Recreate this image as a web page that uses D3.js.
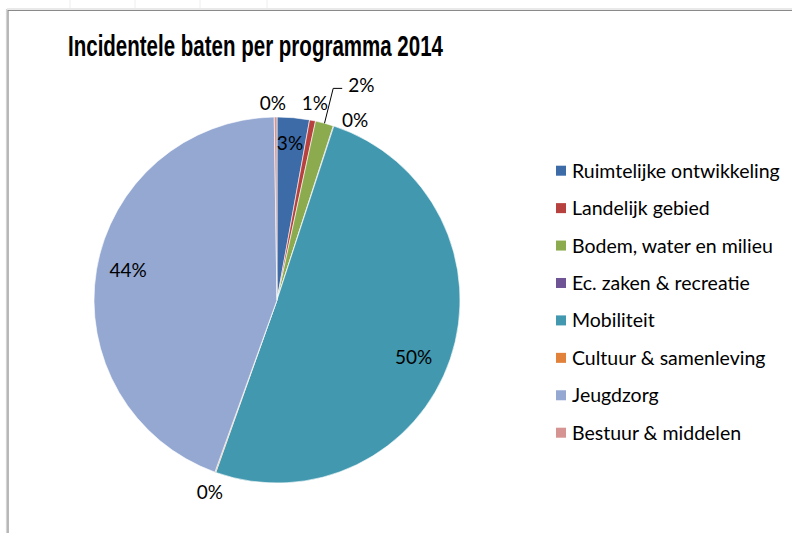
<!DOCTYPE html>
<html>
<head>
<meta charset="utf-8">
<script src="https://cdn.jsdelivr.net/npm/d3@7"></script>
<style>
  body { margin: 0; background: #fff; }
  text { font-family: Lato, "Open Sans", sans-serif; fill: #000; }
</style>
</head>
<body>
<div id="content"></div>
<script>
var width = 792;
var height = 533;

// data
var categories = ['Ruimtelijke ontwikkeling', 'Landelijk gebied', 'Bodem, water en milieu',
  'Ec. zaken & recreatie', 'Mobiliteit', 'Cultuur & samenleving', 'Jeugdzorg', 'Bestuur & middelen'];
var values = [2.85, 0.53, 1.6, 0.05, 50.4, 0.08, 44.25, 0.24];
var colors = ['#3D6BA7', '#B7413E', '#8BAB4E', '#6E5494', '#4198AF', '#E1813A', '#94A8D2', '#D59492'];
var title = 'Incidentele baten per programma 2014';

// label placement per slice: radius factor of pie radius, angle shift (deg), leader line
var labelPlace = [
  { r: 0.86, da: -0.4 },
  { r: 1.095, da: -0.3 },
  { r: 1.26, da: 6.4, leader: true },
  { r: 1.07, da: 5.5 },
  { r: 0.81, da: 4 },
  { r: 1.11, da: -0.4 },
  { r: 0.83, da: 2 },
  { r: 1.075, da: -0.8 }
];

var svg = d3.select('#content').append('svg').attr('width', width).attr('height', height);

// spreadsheet frame
svg.append('rect').attr('width', width).attr('height', height).attr('fill', '#fff');
[70, 135, 200, 267].forEach(function(x){
  svg.append('line').attr('x1', x).attr('x2', x).attr('y1', 0).attr('y2', 8)
    .attr('stroke', '#eee').attr('stroke-width', 1);
});
svg.append('line').attr('x1', 7).attr('x2', width).attr('y1', 9).attr('y2', 9)
  .attr('stroke', '#d4d4d4').attr('stroke-width', 1.2);
svg.append('line').attr('x1', 8).attr('x2', width).attr('y1', 10.5).attr('y2', 10.5)
  .attr('stroke', '#8a8a8a').attr('stroke-width', 1.2);
svg.append('line').attr('x1', 6.5).attr('x2', 6.5).attr('y1', 9).attr('y2', height)
  .attr('stroke', '#d4d4d4').attr('stroke-width', 1.2);
svg.append('line').attr('x1', 8).attr('x2', 8).attr('y1', 10).attr('y2', height)
  .attr('stroke', '#8a8a8a').attr('stroke-width', 1.2);

svg.append('text')
  .attr('x', 68).attr('y', 56)
  .attr('textLength', 375).attr('lengthAdjust', 'spacingAndGlyphs')
  .style('font-family', '"Liberation Sans", Arial, sans-serif')
  .style('font-weight', 'bold').style('font-size', '30px').style('fill', '#000')
  .text(title);

var cx = 277, cy = 300, radius = 183;
var total = d3.sum(values);
var color = d3.scaleOrdinal().domain(categories).range(colors);

var pie = d3.pie().sort(null).value(function(d){ return d.value; });
var data = categories.map(function(c, i){ return { name: c, value: values[i], i: i }; });
var arcs = pie(data);
var arc = d3.arc().innerRadius(0).outerRadius(radius);

var g = svg.append('g').attr('transform', 'translate(' + cx + ',' + cy + ')');

g.selectAll('path.slice').data(arcs).enter().append('path')
  .attr('class', 'slice')
  .attr('d', arc)
  .attr('fill', function(d){ return color(d.data.name); })
  .attr('stroke', '#fff').attr('stroke-width', 0.6);

function polar(angle, r) {
  return [Math.sin(angle) * r, -Math.cos(angle) * r];
}

var fmt = function(v){ return Math.round(v / total * 100) + '%'; };

arcs.forEach(function(d, i){
  var p = labelPlace[i];
  var mid = (d.startAngle + d.endAngle) / 2;
  var pos = polar(mid + p.da * Math.PI / 180, radius * p.r);
  var t = g.append('text')
    .attr('x', pos[0]).attr('y', pos[1])
    .attr('text-anchor', 'middle').attr('dy', '0.36em')
    .style('font-size', '19px')
    .text(fmt(d.data.value));
  if (p.leader) {
    var w = t.node().getComputedTextLength();
    var start = polar(mid, radius);
    var ex = pos[0] - w / 2 - 6, ey = pos[1] + 3;
    g.append('polyline')
      .attr('points', [start, [ex - 9, ey], [ex, ey]].map(function(q){ return q.join(','); }).join(' '))
      .attr('fill', 'none').attr('stroke', '#000').attr('stroke-width', 1);
  }
});

// legend
var ly = d3.scalePoint().domain(categories).range([170.7, 432.7]);
var legend = svg.selectAll('g.legend').data(categories).enter().append('g')
  .attr('class', 'legend')
  .attr('transform', function(d){ return 'translate(556,' + ly(d) + ')'; });
legend.append('rect')
  .attr('x', 0).attr('y', -5).attr('width', 10).attr('height', 10)
  .attr('fill', function(d){ return color(d); });
legend.append('text')
  .attr('x', 16).attr('dy', '0.36em')
  .style('font-size', '19.5px')
  .text(function(d){ return d; });
</script>
</body>
</html>
